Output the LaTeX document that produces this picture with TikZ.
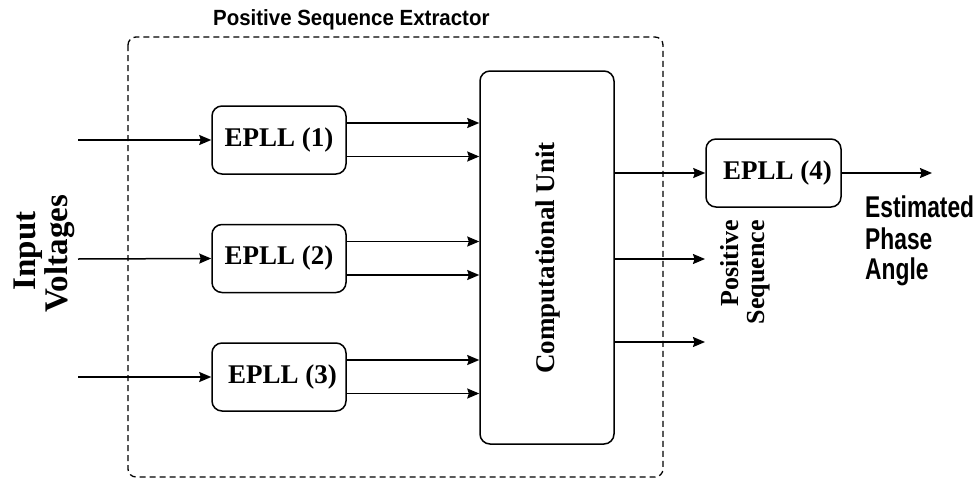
\documentclass[tikz,border=0pt]{standalone}
\usepackage{fontspec}
\setmainfont{Liberation Serif}
\newfontfamily\titlesans[FakeStretch=0.93]{Liberation Sans}
\newfontfamily\outsans[FakeStretch=0.76]{Liberation Sans}
\usetikzlibrary{arrows.meta}

\tikzset{
  blk/.style={draw, line width=1.5pt, rounded corners=10pt, inner sep=0pt,
    font=\bfseries\fontsize{27}{32}\selectfont},
  eplbox/.style={blk, minimum width=134pt, minimum height=68pt},
  sig/.style={line width=1.5pt, -{Stealth[length=12pt,width=10pt,inset=1.5pt]}},
  frame/.style={draw, line width=1.3pt, dash pattern=on 6pt off 4pt, rounded corners=8pt},
  vlabel/.style={rotate=90, inner sep=0pt, anchor=base, font=\bfseries\fontsize{33}{33}\selectfont},
  plabel/.style={rotate=90, inner sep=0pt, anchor=base east, font=\bfseries\fontsize{26}{26}\selectfont},
  outlabel/.style={anchor=base west, inner sep=0pt, font=\outsans\bfseries\fontsize{30}{31}\selectfont},
}

\begin{document}
\begin{tikzpicture}[x=1pt, y=-1pt]
\useasboundingbox (0,0) rectangle (979,479);

% extractor frame and its title
\draw[frame] (128,37) rectangle (663,477);
\node[anchor=west, inner sep=0pt, font=\titlesans\bfseries\fontsize{22}{22}\selectfont]
  (title) at (213,20) {Positive Sequence Extractor};

% blocks
\node[eplbox] (e1) at (279,140) {EPLL (1)};
\node[eplbox] (e2) at (279,258.5) {EPLL (2)};
\node[eplbox] (e3) at (279,377) {\hspace*{7pt}EPLL (3)};
\node[blk, minimum width=134pt, minimum height=373pt] (cu) at (547,257.5) {};
\node[rotate=90, inner sep=0pt, font=\bfseries\fontsize{27}{32}\selectfont]
  (cut) at (548,258) {Computational Unit};
\node[eplbox, minimum width=135pt] (e4) at (773.5,173) {\hspace*{8pt}EPLL (4)};

% input side
\coordinate (in1) at (78,140);
\coordinate (in2) at (78,259);
\coordinate (in3) at (78,377);
\draw[sig] (in1) -- (e1.west);
\draw[sig] (in2) -- (e2.west);
\draw[sig] (in3) -- (e3.west);

\node[vlabel] (inp) at (35,251) {Input};
\node[vlabel] (volt) at (67,254) {Voltages};

% EPLL outputs into the computational unit
\foreach \b in {e1,e2,e3} {
  \draw[sig] ([yshift=17pt]\b.east) -- ([yshift=17pt]\b.east -| cu.west);
  \draw[sig] ([yshift=-16.5pt]\b.east) -- ([yshift=-16.5pt]\b.east -| cu.west);
}

% computational unit outputs
\coordinate (o2) at (705,259);
\coordinate (o3) at (705,342);
\draw[sig] (cu.east |- e4.west) -- (e4.west);
\draw[sig] (cu.east |- o2) -- (o2);
\draw[sig] (cu.east |- o3) -- (o3);

\node[plabel] (pos) at (738,220) {Positive};
\node[plabel] (seq) at (764,220) {Sequence};

% phase estimate output
\coordinate (est) at (932,173);
\draw[sig] (e4.east) -- (est);
\node[outlabel] (est1) at (865,217) {Estimated};
\node[outlabel] (est2) at (865,249) {Phase};
\node[outlabel] (est3) at (865,279) {Angle};
\end{tikzpicture}
\end{document}
